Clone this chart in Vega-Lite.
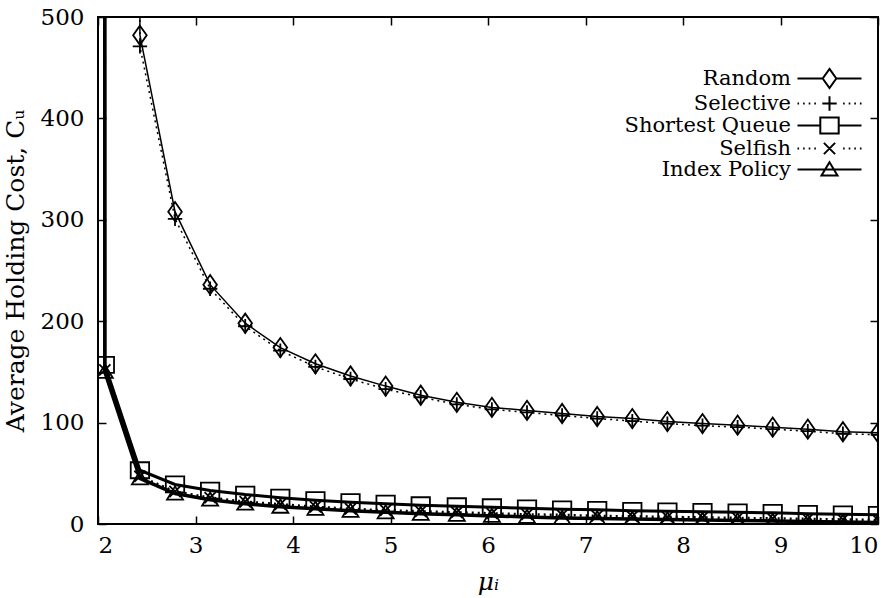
{
  "$schema": "https://vega.github.io/schema/vega-lite/v6.json",
  "width": 780,
  "height": 507,
  "autosize": {"type": "none"},
  "padding": {"left": 98, "top": 17, "right": 18, "bottom": 74},
  "background": "white",
  "config": {
    "font": "DejaVu Serif",
    "view": {"stroke": "black", "strokeWidth": 2},
    "axis": {
      "domain": false, "grid": false, "tickColor": "black", "tickWidth": 1.5, "tickSize": -8,
      "labelColor": "black", "labelFontSize": 23, "labelFont": "DejaVu Serif",
      "titleFont": "DejaVu Serif", "titleFontWeight": "normal", "titleColor": "black", "titleFontSize": 25
    }
  },
  "data": {"values": [
    {"p": "Random", "x": 2.07, "y": 20000}, {"p": "Random", "x": 2.43, "y": 482}, {"p": "Random", "x": 2.79, "y": 308},
    {"p": "Random", "x": 3.15, "y": 236}, {"p": "Random", "x": 3.51, "y": 198}, {"p": "Random", "x": 3.87, "y": 174},
    {"p": "Random", "x": 4.23, "y": 158}, {"p": "Random", "x": 4.59, "y": 146}, {"p": "Random", "x": 4.95, "y": 136},
    {"p": "Random", "x": 5.31, "y": 127}, {"p": "Random", "x": 5.68, "y": 120}, {"p": "Random", "x": 6.04, "y": 115},
    {"p": "Random", "x": 6.40, "y": 112}, {"p": "Random", "x": 6.76, "y": 109}, {"p": "Random", "x": 7.12, "y": 106},
    {"p": "Random", "x": 7.48, "y": 104}, {"p": "Random", "x": 7.84, "y": 101}, {"p": "Random", "x": 8.20, "y": 99},
    {"p": "Random", "x": 8.56, "y": 97.5}, {"p": "Random", "x": 8.92, "y": 95.5}, {"p": "Random", "x": 9.28, "y": 93.5},
    {"p": "Random", "x": 9.64, "y": 91}, {"p": "Random", "x": 10.0, "y": 90},

    {"p": "Selective", "x": 2.07, "y": 20000}, {"p": "Selective", "x": 2.43, "y": 471}, {"p": "Selective", "x": 2.79, "y": 301},
    {"p": "Selective", "x": 3.15, "y": 232}, {"p": "Selective", "x": 3.51, "y": 195}, {"p": "Selective", "x": 3.87, "y": 171},
    {"p": "Selective", "x": 4.23, "y": 155}, {"p": "Selective", "x": 4.59, "y": 143}, {"p": "Selective", "x": 4.95, "y": 133},
    {"p": "Selective", "x": 5.31, "y": 125}, {"p": "Selective", "x": 5.68, "y": 118}, {"p": "Selective", "x": 6.04, "y": 113},
    {"p": "Selective", "x": 6.40, "y": 110}, {"p": "Selective", "x": 6.76, "y": 107}, {"p": "Selective", "x": 7.12, "y": 104},
    {"p": "Selective", "x": 7.48, "y": 101.5}, {"p": "Selective", "x": 7.84, "y": 99}, {"p": "Selective", "x": 8.20, "y": 97},
    {"p": "Selective", "x": 8.56, "y": 95.5}, {"p": "Selective", "x": 8.92, "y": 93.5}, {"p": "Selective", "x": 9.28, "y": 91.5},
    {"p": "Selective", "x": 9.64, "y": 89}, {"p": "Selective", "x": 10.0, "y": 88},

    {"p": "Shortest Queue", "x": 2.0, "y": 50000}, {"p": "Shortest Queue", "x": 2.07, "y": 157}, {"p": "Shortest Queue", "x": 2.43, "y": 53},
    {"p": "Shortest Queue", "x": 2.79, "y": 39}, {"p": "Shortest Queue", "x": 3.15, "y": 33}, {"p": "Shortest Queue", "x": 3.51, "y": 29},
    {"p": "Shortest Queue", "x": 3.87, "y": 26}, {"p": "Shortest Queue", "x": 4.23, "y": 23.5}, {"p": "Shortest Queue", "x": 4.59, "y": 21.5},
    {"p": "Shortest Queue", "x": 4.95, "y": 20}, {"p": "Shortest Queue", "x": 5.31, "y": 18.5}, {"p": "Shortest Queue", "x": 5.68, "y": 17.5},
    {"p": "Shortest Queue", "x": 6.04, "y": 16.5}, {"p": "Shortest Queue", "x": 6.40, "y": 15.5}, {"p": "Shortest Queue", "x": 6.76, "y": 14.5},
    {"p": "Shortest Queue", "x": 7.12, "y": 14}, {"p": "Shortest Queue", "x": 7.48, "y": 13}, {"p": "Shortest Queue", "x": 7.84, "y": 12.5},
    {"p": "Shortest Queue", "x": 8.20, "y": 12}, {"p": "Shortest Queue", "x": 8.56, "y": 11.5}, {"p": "Shortest Queue", "x": 8.92, "y": 11},
    {"p": "Shortest Queue", "x": 9.28, "y": 10}, {"p": "Shortest Queue", "x": 9.64, "y": 9.5}, {"p": "Shortest Queue", "x": 10.0, "y": 9},

    {"p": "Selfish", "x": 2.0, "y": 50000}, {"p": "Selfish", "x": 2.07, "y": 152}, {"p": "Selfish", "x": 2.43, "y": 47},
    {"p": "Selfish", "x": 2.79, "y": 32}, {"p": "Selfish", "x": 3.15, "y": 26}, {"p": "Selfish", "x": 3.51, "y": 22},
    {"p": "Selfish", "x": 3.87, "y": 19.5}, {"p": "Selfish", "x": 4.23, "y": 17}, {"p": "Selfish", "x": 4.59, "y": 15},
    {"p": "Selfish", "x": 4.95, "y": 13.5}, {"p": "Selfish", "x": 5.31, "y": 12.5}, {"p": "Selfish", "x": 5.68, "y": 11.5},
    {"p": "Selfish", "x": 6.04, "y": 10.5}, {"p": "Selfish", "x": 6.40, "y": 9.5}, {"p": "Selfish", "x": 6.76, "y": 9},
    {"p": "Selfish", "x": 7.12, "y": 8}, {"p": "Selfish", "x": 7.48, "y": 7.5}, {"p": "Selfish", "x": 7.84, "y": 7},
    {"p": "Selfish", "x": 8.20, "y": 6.5}, {"p": "Selfish", "x": 8.56, "y": 6}, {"p": "Selfish", "x": 8.92, "y": 5.5},
    {"p": "Selfish", "x": 9.28, "y": 5}, {"p": "Selfish", "x": 9.64, "y": 4.5}, {"p": "Selfish", "x": 10.0, "y": 4},

    {"p": "Index Policy", "x": 2.0, "y": 50000}, {"p": "Index Policy", "x": 2.07, "y": 150}, {"p": "Index Policy", "x": 2.43, "y": 45},
    {"p": "Index Policy", "x": 2.79, "y": 30}, {"p": "Index Policy", "x": 3.15, "y": 24}, {"p": "Index Policy", "x": 3.51, "y": 20},
    {"p": "Index Policy", "x": 3.87, "y": 17}, {"p": "Index Policy", "x": 4.23, "y": 15}, {"p": "Index Policy", "x": 4.59, "y": 13},
    {"p": "Index Policy", "x": 4.95, "y": 11.5}, {"p": "Index Policy", "x": 5.31, "y": 10}, {"p": "Index Policy", "x": 5.68, "y": 9},
    {"p": "Index Policy", "x": 6.04, "y": 8}, {"p": "Index Policy", "x": 6.40, "y": 7}, {"p": "Index Policy", "x": 6.76, "y": 6},
    {"p": "Index Policy", "x": 7.12, "y": 5.5}, {"p": "Index Policy", "x": 7.48, "y": 5}, {"p": "Index Policy", "x": 7.84, "y": 4.5},
    {"p": "Index Policy", "x": 8.20, "y": 4}, {"p": "Index Policy", "x": 8.56, "y": 3.5}, {"p": "Index Policy", "x": 8.92, "y": 3},
    {"p": "Index Policy", "x": 9.28, "y": 2.5}, {"p": "Index Policy", "x": 9.64, "y": 2}, {"p": "Index Policy", "x": 10.0, "y": 1.5}
  ]},
  "layer": [
    {
      "transform": [{"filter": {"field": "p", "equal": "Random"}}],
      "mark": {"type": "line", "clip": true, "color": "black", "strokeWidth": 1.5},
      "encoding": {
        "x": {"field": "x", "type": "quantitative", "scale": {"domain": [2, 10], "nice": false, "zero": false},
              "axis": {"orient": "top", "values": [2, 3, 4, 5, 6, 7, 8, 9, 10], "labels": false, "title": null}},
        "y": {"field": "y", "type": "quantitative", "scale": {"domain": [0, 500], "nice": false},
              "axis": {"orient": "right", "values": [0, 100, 200, 300, 400, 500], "labels": false, "title": null}}
      }
    },
    {
      "transform": [{"filter": {"field": "p", "equal": "Selective"}}],
      "mark": {"type": "line", "clip": true, "color": "black", "strokeWidth": 1.5, "strokeDash": [2, 4]},
      "encoding": {
        "x": {"field": "x", "type": "quantitative", "axis": null},
        "y": {"field": "y", "type": "quantitative", "axis": null}
      }
    },
    {
      "transform": [{"filter": {"field": "p", "equal": "Shortest Queue"}}],
      "mark": {"type": "line", "clip": true, "color": "black", "strokeWidth": 3},
      "encoding": {
        "x": {"field": "x", "type": "quantitative", "axis": null},
        "y": {"field": "y", "type": "quantitative", "axis": null}
      }
    },
    {
      "transform": [{"filter": {"field": "p", "equal": "Selfish"}}],
      "mark": {"type": "line", "clip": true, "color": "black", "strokeWidth": 2.5, "strokeDash": [2, 4]},
      "encoding": {
        "x": {"field": "x", "type": "quantitative", "axis": null},
        "y": {"field": "y", "type": "quantitative", "axis": null}
      }
    },
    {
      "transform": [{"filter": {"field": "p", "equal": "Index Policy"}}],
      "mark": {"type": "line", "clip": true, "color": "black", "strokeWidth": 3.5},
      "encoding": {
        "x": {"field": "x", "type": "quantitative", "axis": null},
        "y": {"field": "y", "type": "quantitative", "axis": null}
      }
    },
    {
      "mark": {"type": "point", "clip": true, "filled": false, "color": "black", "strokeWidth": 1.8, "size": 256, "opacity": 1},
      "encoding": {
        "x": {"field": "x", "type": "quantitative",
              "axis": {"orient": "bottom", "values": [2, 3, 4, 5, 6, 7, 8, 9, 10], "title": "μᵢ", "titleFontStyle": "italic", "labelPadding": 18, "titlePadding": 12}},
        "y": {"field": "y", "type": "quantitative",
              "axis": {"orient": "left", "values": [0, 100, 200, 300, 400, 500], "title": "Average Holding Cost, Cᵤ", "labelPadding": 22, "titlePadding": 12}},
        "shape": {"field": "p", "type": "nominal", "legend": null,
          "scale": {"domain": ["Random", "Selective", "Shortest Queue", "Selfish", "Index Policy"],
                    "range": ["M0,-1.2L0.85,0L0,1.2L-0.85,0Z", "M-0.9,0H0.9M0,-0.9V0.9", "M-1.15,-1H1.15V1H-1.15Z", "M-0.7,-0.7L0.7,0.7M-0.7,0.7L0.7,-0.7", "M0,-0.9L1,0.75H-1Z"]}
        }
      }
    },
    {
      "mark": {"type": "point", "clip": true, "filled": false, "color": "black", "strokeWidth": 1.8, "size": 0},
      "encoding": {
        "x": {"field": "x", "type": "quantitative", "axis": null},
        "y": {"field": "y", "type": "quantitative", "axis": null},
        "shape": {"field": "p", "type": "nominal",
          "scale": {"domain": ["Random", "Selective", "Shortest Queue", "Selfish", "Index Policy"],
                    "range": [
                      "M-4,0H-0.85M0.85,0H4M0,-1.2L0.85,0L0,1.2L-0.85,0Z",
                      "M-4,0H-3.8M-3.3,0H-3.1M-2.6,0H-2.4M-1.9,0H-1.7M-0.9,0H0.9M1.7,0H1.9M2.4,0H2.6M3.1,0H3.3M3.8,0H4M0,-0.9V0.9",
                      "M-4,0H-1.15M1.15,0H4M-1.15,-1H1.15V1H-1.15Z",
                      "M-4,0H-3.8M-3.3,0H-3.1M-2.6,0H-2.4M-1.9,0H-1.7M1.7,0H1.9M2.4,0H2.6M3.1,0H3.3M3.8,0H4M-0.7,-0.7L0.7,0.7M-0.7,0.7L0.7,-0.7",
                      "M-4,0H4M0,-0.9L1,0.75H-1Z"]},
          "legend": {
            "title": null, "orient": "none", "legendX": 721, "legendY": 51,
            "labelAlign": "right", "labelOffset": -49, "labelFontSize": 21, "labelFont": "DejaVu Serif", "labelColor": "black", "labelLimit": 400,
            "symbolSize": 256, "symbolStrokeColor": "black", "symbolStrokeWidth": 2, "symbolFillColor": "transparent", "symbolOpacity": 1,
            "rowPadding": -4, "padding": 0
          }
        }
      }
    }
  ],
  "resolve": {"axis": {"x": "independent", "y": "independent"}, "scale": {"shape": "independent"}}
}
